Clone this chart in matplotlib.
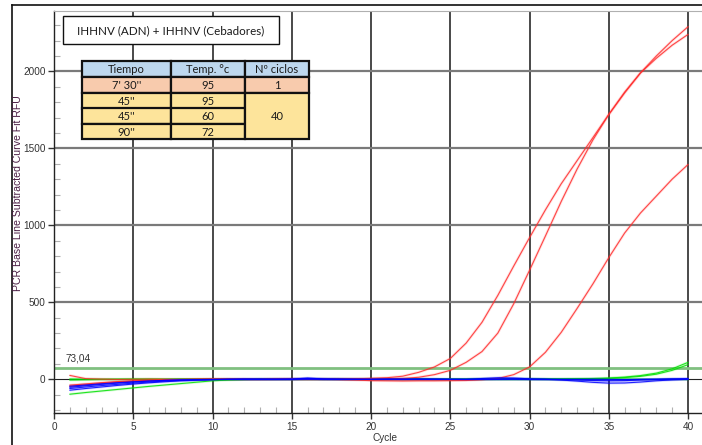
import matplotlib
matplotlib.use("Agg")
import matplotlib.pyplot as plt
from matplotlib.patches import Rectangle
from matplotlib.lines import Line2D
from matplotlib.ticker import MultipleLocator

# ---------------- data ----------------
cycles = list(range(1, 41))

red_1 = [25, 4, 1, -1, 0, 1, 0, -1, 0, 1,
         0, 0, -1, 1, 2, 0, 1, 2, 3, 6,
         10, 20, 45, 80, 135, 235, 370, 545, 735, 920,
         1100, 1270, 1420, 1570, 1720, 1860, 1990, 2100, 2200, 2290]
red_2 = [-45, -35, -26, -18, -12, -7, -4, -2, -1, 0,
         1, 0, -1, 0, 1, 0, -1, 0, 1, 2,
         3, 5, 13, 30, 58, 110, 180, 300, 490, 708,
         930, 1155, 1365, 1555, 1720, 1865, 1990, 2085, 2170, 2240]
red_3 = [-38, -30, -22, -15, -10, -6, -3, -1, 0, 1,
         0, -1, 0, 1, 0, -1, 0, -2, -5, -9,
         -10, -11, -10, -10, -9, -8, -3, 5, 30, 80,
         175, 305, 460, 620, 790, 950, 1080, 1190, 1300, 1395]

blue_1 = [-52, -42, -33, -25, -18, -12, -7, -4, -2, -1,
          0, 0, 1, 0, 1, 5, 1, 0, 0, -1,
          0, 1, 2, 1, 0, -1, 5, 10, 8, 3,
          0, -2, -5, -8, -10, -9, -5, -2, 0, 2]
blue_2 = [-71, -60, -50, -40, -31, -23, -16, -10, -6, -3,
          -1, 0, 0, 1, 0, -1, 0, 1, 0, 0,
          0, -1, 0, 0, -1, 0, 1, 2, 3, 1,
          0, -5, -12, -20, -25, -24, -18, -10, -4, 0]
blue_3 = [-60, -50, -41, -33, -25, -18, -12, -7, -4, -2,
          -1, 0, 0, 0, 1, 8, 2, 0, 0, 0,
          1, 0, 0, -1, 0, 0, 0, 0, 1, 0,
          -1, -1, 0, 1, 0, -2, -1, 0, 2, 3]
blue_4 = [-45, -37, -29, -22, -16, -11, -7, -4, -2, -1,
          0, 1, 0, -1, 0, 3, 1, 0, -1, -1,
          0, 0, -1, 0, -1, -2, -1, 0, 0, -1,
          0, 0, -1, -3, -4, -3, -1, 0, 1, 2]

green_1 = [-97, -86, -76, -66, -56, -46, -37, -28, -19, -10,
           -5, -2, 0, 0, -1, 0, 1, 0, 0, 0,
           1, 0, 0, -1, 0, 0, 1, 0, 0, 0,
           0, -1, 0, 0, 0, 1, 0, -1, 0, -2]
green_2 = [2, 1, 0, 0, 1, 0, 0, 1, 0, 1,
           0, -1, 0, 1, 0, 0, 0, 1, 0, 0,
           0, 1, 0, 0, -1, 0, 1, 1, 0, 1,
           1, 2, 3, 5, 8, 14, 24, 40, 68, 110]
green_3 = [-5, -3, -1, 0, 0, 1, 0, 0, 0, -1,
           0, 0, 0, -1, 0, 0, -1, 0, 0, 1,
           0, 0, 1, 0, 0, -1, 0, 0, 0, 1,
           0, 1, 2, 3, 6, 11, 19, 33, 58, 95]

threshold = 73.04
threshold_label = "73,04"

x_ticks = [0, 5, 10, 15, 20, 25, 30, 35, 40]
y_ticks = [0, 500, 1000, 1500, 2000]

title_text = "IHHNV (ADN) + IHHNV (Cebadores)"
table_header = ["Tiempo", "Temp. °c", "Nº ciclos"]
table_time = ["7' 30''", "45''", "45''", "90''"]
table_temp = ["95", "95", "60", "72"]
table_cycles = ["1", "40"]

# ---------------- figure ----------------
W, H = 702, 445
fig = plt.figure(figsize=(W / 100, H / 100), dpi=100)
fig.patch.set_facecolor("white")

def fx(px):
    return px / W

def fy(py):
    return 1 - py / H

ax_l, ax_r, ax_t, ax_b = 54, 702, 10.7, 413.3
ax = fig.add_axes([fx(ax_l), fy(ax_b), fx(ax_r - ax_l), (ax_b - ax_t) / H])
ax.set_xlim(0, 40.88)
ax.set_ylim(-221, 2394)

# grid
for xv in x_ticks[1:]:
    ax.axvline(xv, color="#3a3a3a", lw=1.3, zorder=1)
for yv in y_ticks[1:]:
    ax.axhline(yv, color="#7a7a7a", lw=1.6, zorder=1)
ax.axhline(0, color="#222222", lw=0.8, zorder=1)

# threshold
ax.axhline(threshold, color="#80c080", lw=2.0, zorder=2)
ax.text(0.75, threshold + 28, threshold_label, fontsize=7.2, color="#333333",
        family="Liberation Sans", va="bottom", ha="left")

def draw(vals, color):
    ax.plot(cycles, vals, color=color, lw=2.0, alpha=0.14, zorder=3,
            solid_capstyle="butt")
    ax.plot(cycles, vals, color=color, lw=0.8, alpha=0.85, zorder=4)

for s in (green_1, green_2, green_3):
    draw(s, "#00e000")
for s in (red_1, red_2, red_3):
    draw(s, "#ff2a2a")
for s in (blue_1, blue_2, blue_3, blue_4):
    draw(s, "#0000ff")

# spines / ticks
ax.spines["right"].set_visible(False)
ax.spines["top"].set_color("#b0b0b0")
ax.spines["left"].set_color("#222222")
ax.spines["bottom"].set_color("#222222")
ax.spines["left"].set_linewidth(1.0)
ax.spines["bottom"].set_linewidth(1.0)

ax.set_xticks(x_ticks)
ax.set_yticks(y_ticks)
ax.xaxis.set_minor_locator(MultipleLocator(1))
ax.yaxis.set_minor_locator(MultipleLocator(100))
ax.tick_params(axis="both", which="major", direction="out", length=4,
               width=1.0, color="#333333", labelsize=7.2, labelcolor="#333333", pad=2)
ax.tick_params(axis="both", which="minor", direction="in", length=4,
               width=0.8, color="#b0b0b0")
for lab in ax.get_xticklabels() + ax.get_yticklabels():
    lab.set_family("Liberation Sans")

fig.text(fx(385), fy(438), "Cycle", fontsize=7.2, color="#333333",
         family="Liberation Sans", ha="center", va="center")
fig.text(fx(18), fy(193), "PCR Base Line Subtracted Curve Fit RFU",
         fontsize=7.6, color="#4a1e44", family="Liberation Sans",
         rotation=90, ha="center", va="center")

# outer frame
fig.add_artist(Line2D([fx(12), fx(702)], [fy(5), fy(5)], color="#111111",
                      lw=1.2, transform=fig.transFigure))
fig.add_artist(Line2D([fx(12), fx(12)], [fy(5), fy(445)], color="#111111",
                      lw=1.2, transform=fig.transFigure))

# title box
def rect(x0, y0, x1, y1, fc, lw=1.0, ec="#111111", z=5):
    fig.add_artist(Rectangle((fx(x0), fy(y1)), fx(x1 - x0), (y1 - y0) / H,
                             facecolor=fc, edgecolor=ec, lw=lw,
                             transform=fig.transFigure, zorder=z))

rect(63, 16, 279, 44, "white", lw=1.0)
fig.text(fx(171), fy(30.5), title_text, fontsize=8.4, family="Lato",
         color="#1a1a1a", ha="center", va="center", zorder=6)

# table
col_x = [82, 171, 245, 309]
row_y = [61, 77, 93, 108.5, 124, 139]
blue_fc, salmon_fc, yellow_fc = "#bdd7ee", "#f8cbad", "#fde49b"

for c in range(3):
    rect(col_x[c], row_y[0], col_x[c + 1], row_y[1], blue_fc, lw=1.6)
    rect(col_x[c], row_y[1], col_x[c + 1], row_y[2], salmon_fc, lw=1.6)
for r in range(2, 5):
    for c in range(2):
        rect(col_x[c], row_y[r], col_x[c + 1], row_y[r + 1], yellow_fc, lw=1.6)
rect(col_x[2], row_y[2], col_x[3], row_y[5], yellow_fc, lw=1.6)

def cell_text(cx0, cx1, ry0, ry1, s):
    fig.text(fx((cx0 + cx1) / 2), fy((ry0 + ry1) / 2 + 0.5), s, fontsize=8,
             family="Lato", color="#1a1a1a", ha="center", va="center", zorder=7)

for c in range(3):
    cell_text(col_x[c], col_x[c + 1], row_y[0], row_y[1], table_header[c])
for r in range(4):
    cell_text(col_x[0], col_x[1], row_y[r + 1], row_y[r + 2], table_time[r])
    cell_text(col_x[1], col_x[2], row_y[r + 1], row_y[r + 2], table_temp[r])
cell_text(col_x[2], col_x[3], row_y[1], row_y[2], table_cycles[0])
cell_text(col_x[2], col_x[3], row_y[2], row_y[5], table_cycles[1])

fig.savefig("out.png", dpi=100)
